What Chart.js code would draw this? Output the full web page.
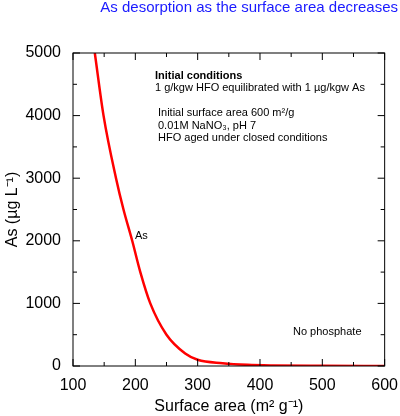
<!DOCTYPE html>
<html><head><meta charset="utf-8">
<script src="https://cdn.jsdelivr.net/npm/chart.js@4"></script>
<style>html,body{margin:0;padding:0;background:#fff}</style>
</head><body>
<canvas id="c" width="400" height="416"></canvas>
<script>
// values
const surfaceArea = [135, 149, 169, 181, 195, 208, 224, 250, 280, 300, 340, 380, 420, 500, 600];
const arsenic =     [5000, 4000, 3000, 2500, 2000, 1500, 1000, 500, 200, 100, 45, 18, 8, 3, 1];
const xTicks = [100, 200, 300, 400, 500, 600];
const yTicks = [0, 1000, 2000, 3000, 4000, 5000];

const FONT = "'Liberation Sans', Arial, sans-serif";

// inward ticks on all four sides + text annotations
const extras = {
  id: 'extras',
  afterDraw(chart){
    const {ctx, chartArea:a, scales:{x, y}} = chart;
    ctx.save();
    ctx.strokeStyle = '#000'; ctx.lineWidth = 1;
    ctx.strokeRect(a.left, a.top, a.right - a.left, a.bottom - a.top);
    ctx.beginPath();
    for(let v = 100; v <= 600; v += 50){
      const p = x.getPixelForValue(v), L = v % 100 ? 4 : 7;
      ctx.moveTo(p, a.bottom); ctx.lineTo(p, a.bottom - L);
      ctx.moveTo(p, a.top); ctx.lineTo(p, a.top + L);
    }
    for(let v = 0; v <= 5000; v += 500){
      const p = y.getPixelForValue(v), L = v % 1000 ? 4 : 7;
      ctx.moveTo(a.left, p); ctx.lineTo(a.left + L, p);
      ctx.moveTo(a.right, p); ctx.lineTo(a.right - L, p);
    }
    ctx.stroke();

    ctx.fillStyle = '#1a1aff';
    ctx.font = '15px ' + FONT;
    ctx.textAlign = 'right'; ctx.textBaseline = 'top';
    ctx.fillText('As desorption as the surface area decreases', 398, 0);

    ctx.fillStyle = '#000'; ctx.textAlign = 'left'; ctx.textBaseline = 'alphabetic';
    ctx.font = 'bold 11px ' + FONT;
    ctx.fillText('Initial conditions', 155, 79);
    ctx.font = '11px ' + FONT;
    ctx.fillText('1 g/kgw HFO equilibrated with 1 \u00b5g/kgw As', 155, 91);
    ctx.fillText('Initial surface area 600 m\u00b2/g', 158, 116);
    ctx.fillText('0.01M NaNO\u2083, pH 7', 158, 129);
    ctx.fillText('HFO aged under closed conditions', 158, 141);
    ctx.fillText('As', 135, 239);
    ctx.fillText('No phosphate', 293, 335);

    ctx.font = '16px ' + FONT;
    ctx.textAlign = 'center';
    ctx.fillText('Surface area (m\u00b2 g\u207b\u00b9)', (a.left + a.right) / 2, 411);
    ctx.translate(17, (a.top + a.bottom) / 2);
    ctx.rotate(-Math.PI / 2);
    ctx.fillText('As (\u00b5g L\u207b\u00b9)', 0, 0);
    ctx.restore();
  }
};

new Chart(document.getElementById('c'), {
  type: 'line',
  data: { datasets: [{
    data: surfaceArea.map((v, i) => ({x: v, y: arsenic[i]})),
    borderColor: '#ff0000', borderWidth: 2.5, pointRadius: 0,
    cubicInterpolationMode: 'monotone', fill: false
  }]},
  options: {
    responsive: false, animation: false,
    layout: { padding: { left: 0, right: 13, top: 53, bottom: 0 } },
    plugins: { legend: {display: false}, tooltip: {enabled: false} },
    scales: {
      x: { type: 'linear', min: 100, max: 600,
        afterFit: s => { s.height = 50; },
        afterBuildTicks: s => { s.ticks = xTicks.map(v => ({value: v})); },
        grid: { display: false }, border: { display: false },
        ticks: { color: '#000', font: {size: 16, family: FONT}, padding: 2, maxRotation: 0,
          callback: v => String(v) } },
      y: { min: 0, max: 5000,
        afterFit: s => { s.width = 73; },
        afterBuildTicks: s => { s.ticks = yTicks.map(v => ({value: v})); },
        grid: { display: false }, border: { display: false },
        ticks: { color: '#000', font: {size: 16, family: FONT}, padding: 4,
          callback: v => String(v) } }
    }
  },
  plugins: [extras]
});
</script>
</body></html>
